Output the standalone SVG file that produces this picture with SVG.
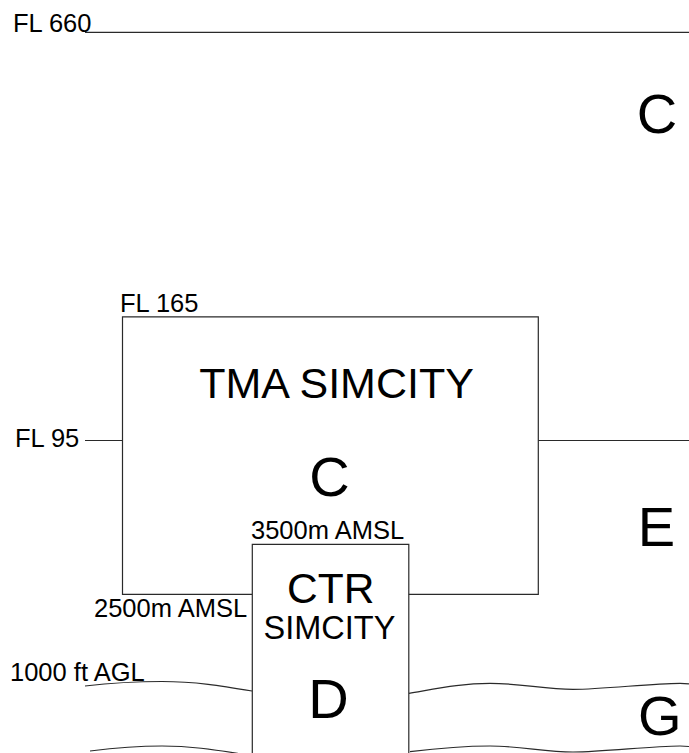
<svg xmlns="http://www.w3.org/2000/svg" width="689" height="753" viewBox="0 0 689 753">
<style>
.ln{fill:none;stroke:#2a2a2a;stroke-width:1.2}
.t{font-family:"Liberation Sans",Arial,sans-serif;fill:#000}
.s{font-size:25.5px}
.big{font-size:56px;text-anchor:middle}
.mid{text-anchor:middle}
</style>
<rect width="689" height="753" fill="#fff"/>
<g id="connectors">
<line class="ln" x1="85" y1="32.3" x2="689" y2="32.3"/>
<line class="ln" x1="85" y1="440.5" x2="122.5" y2="440.5"/>
<line class="ln" x1="538.3" y1="440.5" x2="689" y2="440.5"/>
<path class="ln" d="M85,686 C115,682.5 140,681.5 162,681.5 C195,681.5 222,686 252,691"/>
<path class="ln" d="M409,693.3 C440,688 462,683.3 490,683.3 C520,683.3 545,689.3 573,689.3 C605,689.3 650,683.3 680,683.3 C684,683.3 687,683.5 689,683.8"/>
<path class="ln" d="M90,751 C118,747.5 140,746 162,746 C192,746 216,750 242,754"/>
<path class="ln" d="M410,751.7 C440,748 464,746 490,746 C520,746 545,752 573,752 C605,752 650,746 680,746 C684,746 687,746.2 689,746.5"/>
</g>
<g id="tma">
<path class="ln" d="M252,594.3 H122.5 V316.8 H538.3 V594.3 H408.8"/>
<text class="t s" x="120" y="312">FL 165</text>
<text class="t mid" x="336.5" y="398.3" font-size="43">TMA SIMCITY</text>
<text class="t big" x="329.5" y="496">C</text>
</g>
<g id="ctr">
<path class="ln" d="M252.3,760 V544.3 H408.8 V760"/>
<text class="t s" x="251" y="539">3500m AMSL</text>
<text class="t s" x="94" y="616.5">2500m AMSL</text>
<text class="t mid" x="330.8" y="602.5" font-size="42.5">CTR</text>
<text class="t mid" x="329.5" y="639" font-size="32.5">SIMCITY</text>
<text class="t big" x="328.5" y="718.3">D</text>
</g>
<g id="labels">
<text class="t s" x="13" y="32">FL 660</text>
<text class="t s" x="15" y="447">FL 95</text>
<text class="t s" x="10" y="680.7">1000 ft AGL</text>
<text class="t big" x="657" y="133">C</text>
<text class="t big" x="656.5" y="545.5" font-size="60">E</text>
<text class="t big" x="659.7" y="735">G</text>
</g>
</svg>
